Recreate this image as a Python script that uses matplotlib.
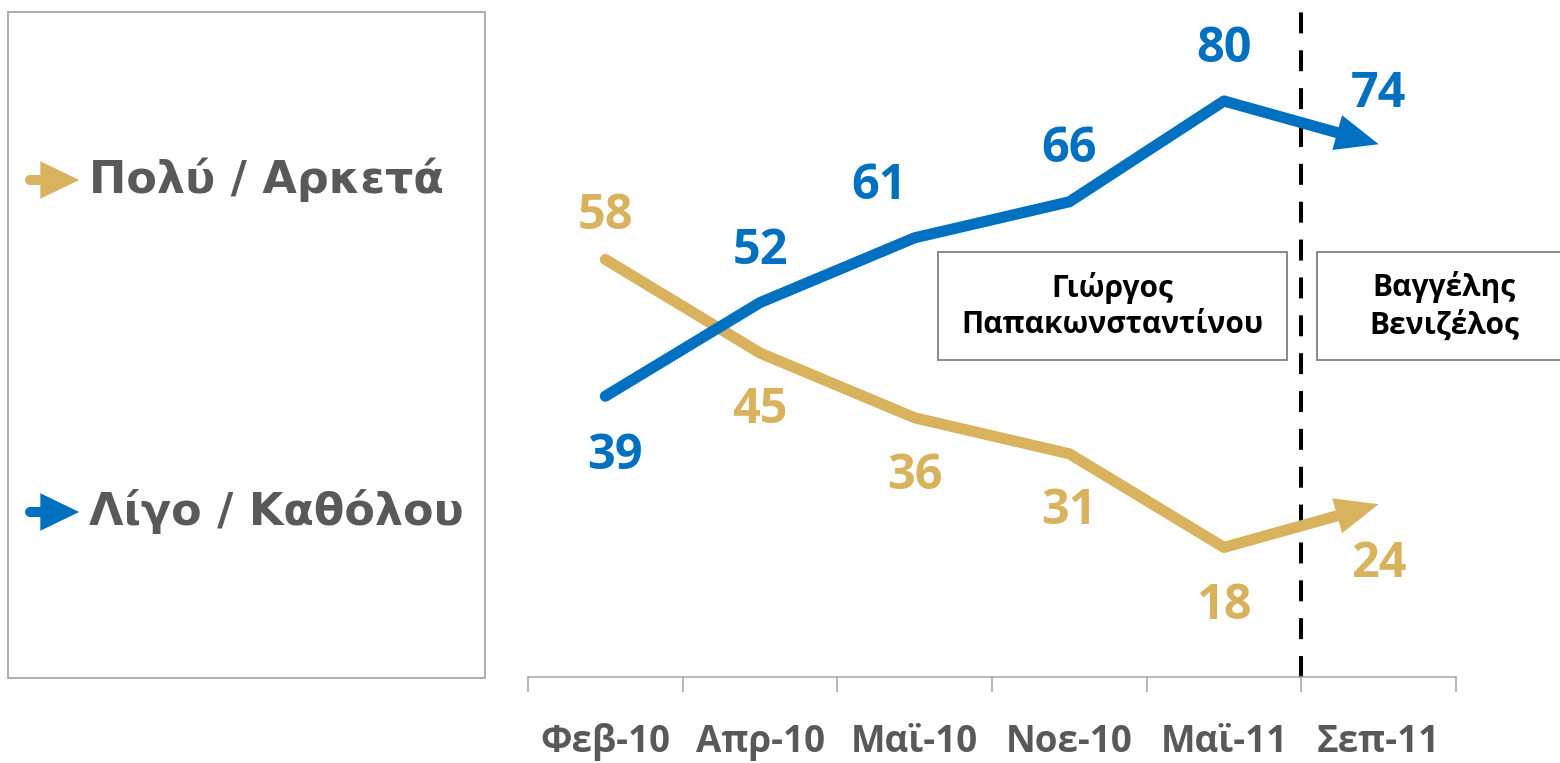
import matplotlib
matplotlib.use("Agg")
import matplotlib.pyplot as plt
from matplotlib.patches import Rectangle, FancyArrowPatch
from matplotlib.lines import Line2D

# ---------------- data ----------------
categories = ["Φεβ-10", "Απρ-10", "Μαϊ-10", "Νοε-10", "Μαϊ-11", "Σεπ-11"]
polu_arketa = [58, 45, 36, 31, 18, 24]
ligo_katholou = [39, 52, 61, 66, 80, 74]
series_names = ["Πολύ / Αρκετά", "Λίγο / Καθόλου"]
box_texts = ["Γιώργος\nΠαπακωνσταντίνου", "Βαγγέλης\nΒενιζέλος"]

# label offsets (pixels)
gold_off = [(0, 43), (0, -58), (0, -59), (0, -58), (0, -59), (0, -60)]
blue_off = [(10, -60), (0, 51), (-36, 51), (0, 52), (0, 51), (0, 50)]

GOLD = "#D9B25E"
BLUE = "#0070C0"
GRAY_TXT = "#595959"
GRAY_LINE = "#A6A6A6"
NUMFONT = ["Open Sans", "DejaVu Sans"]

W, H = 1560, 763
fig = plt.figure(figsize=(W / 100, H / 100), dpi=100)

def fx(x):
    return x / W

def fy(y):
    return 1 - y / H

ax = fig.add_axes([fx(528), fy(677), fx(1456) - fx(528), 677 / H])
ax.set_xlim(-0.5, 5.5)
ax.set_ylim(0, 677 / 7.2)
for s in ["top", "left", "right"]:
    ax.spines[s].set_visible(False)
ax.spines["bottom"].set_color(GRAY_LINE)
ax.spines["bottom"].set_linewidth(1.1)
ax.set_yticks([])
x = list(range(len(categories)))
ax.set_xticks(x)
ax.set_xticklabels(categories, fontsize=26.5, fontweight="bold", color=GRAY_TXT,
                   family=NUMFONT)
ax.set_xticks([i - 0.5 for i in range(len(categories) + 1)], minor=True)
ax.tick_params(axis="x", which="major", length=0, pad=33)
ax.tick_params(axis="x", which="minor", length=11, width=1.1, color=GRAY_LINE,
               direction="out")

LW = 8
for vals, col, offs in [(polu_arketa, GOLD, gold_off), (ligo_katholou, BLUE, blue_off)]:
    ax.plot(x[:-1], vals[:-1], color=col, lw=LW, solid_capstyle="round",
            solid_joinstyle="miter", zorder=3)
    ax.annotate("", xy=(x[-1], vals[-1]), xytext=(x[-2], vals[-2]),
                arrowprops=dict(arrowstyle="simple,head_length=3.1,head_width=2.6,tail_width=0.8",
                                mutation_scale=10, color=col, lw=0,
                                shrinkA=0, shrinkB=0),
                zorder=3)
    for i, v in enumerate(vals):
        ax.annotate(str(v), (x[i], v), xytext=offs[i], textcoords="offset pixels",
                    ha="center", va="center", fontsize=35, fontweight="bold",
                    color=col, family=NUMFONT, zorder=4)

# dashed separator
ax.axvline(4.5, ymin=0, ymax=1, color="black", lw=2.9, dashes=(5.2, 4.2), zorder=2)

# name boxes (figure pixel coords)
def fig_box(x0, y0, x1, y1, xc, text):
    r = Rectangle((fx(x0), fy(y1)), fx(x1) - fx(x0), fy(y0) - fy(y1),
                  transform=fig.transFigure, facecolor="white", edgecolor="#808080",
                  lw=1.3, zorder=5)
    fig.patches.append(r)
    fig.text(fx(xc), fy((y0 + y1) / 2), text,
             ha="center", va="center", fontsize=21.5, fontweight="bold",
             color="black", family=NUMFONT, linespacing=1.3, zorder=6)

fig_box(938, 252, 1287, 360, 1112, box_texts[0])
fig_box(1317, 252, 1580, 360, 1444, box_texts[1])

# legend box
leg = Rectangle((fx(8), fy(678)), fx(485) - fx(8), fy(12) - fy(678),
                transform=fig.transFigure, facecolor="none", edgecolor=GRAY_LINE, lw=1.3)
fig.patches.append(leg)

for name, col, yc in [(series_names[0], GOLD, 180), (series_names[1], BLUE, 512)]:
    fig.lines.append(Line2D([fx(30), fx(50)], [fy(yc), fy(yc)], transform=fig.transFigure,
                            color=col, lw=7.2, solid_capstyle="round"))
    fig.patches.append(FancyArrowPatch((fx(44), fy(yc)), (fx(82), fy(yc)),
                                       transform=fig.transFigure,
                                       arrowstyle="simple,head_length=2.8,head_width=2.7,tail_width=0.1",
                                       mutation_scale=10, color=col, lw=0))
    fig.text(fx(89), fy(yc), name, ha="left", va="center", fontsize=32,
             fontweight="bold", color=GRAY_TXT, family="DejaVu Sans")

fig.savefig("out.png", dpi=100)
